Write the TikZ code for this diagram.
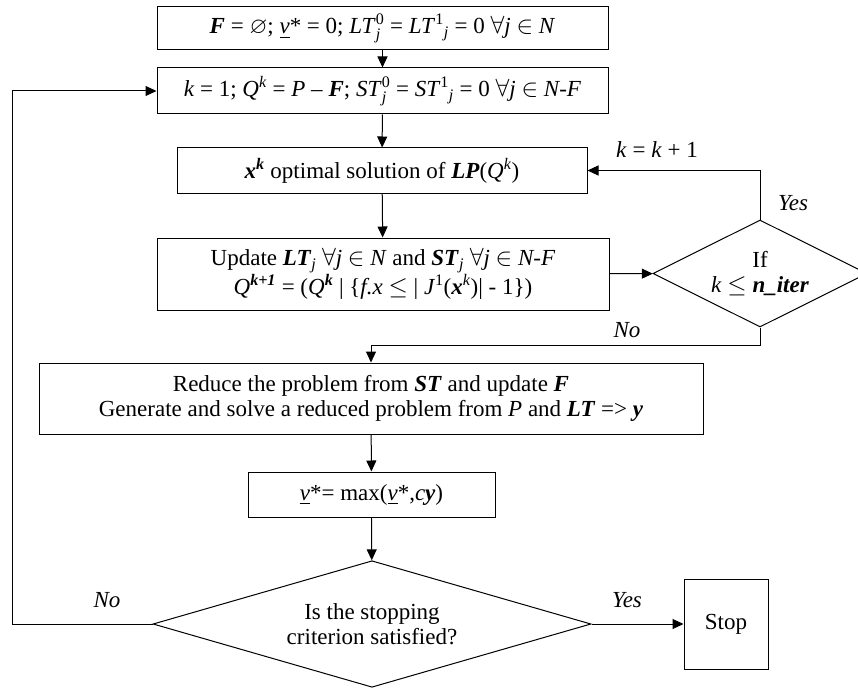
\documentclass[tikz,border=0pt]{standalone}
\usepackage{amsmath,amssymb}
\usepackage{fontspec}
\setmainfont{Liberation Serif}
\usetikzlibrary{shapes.geometric,arrows.meta}

\newcommand{\bvar}[1]{\textbf{\textit{#1}}}
\newcommand{\vlow}{\underline{\textit{v}}}
\newcommand{\supsub}[2]{$^{\text{#1}}_{\textit{#2}}$}

\begin{document}
\begin{tikzpicture}[x=1pt,y=-1pt,
    box/.style={rectangle,draw,line width=1pt,inner sep=0pt,align=center,font=\fontsize{23}{25}\selectfont},
    test/.style={diamond,draw,line width=1pt,inner sep=0pt,aspect=2,align=center,font=\fontsize{23}{25}\selectfont},
    lbl/.style={font=\fontsize{23}{25}\selectfont\itshape},
    flow/.style={-{Triangle[length=11pt,width=10pt]},line width=1pt}]
    \useasboundingbox (0,0) rectangle (858,687);
        \node [box, minimum width=451, minimum height=43] (init) at (382.5,28.5) {\bvar{F} = $\varnothing$; \vlow* = 0; \textit{LT}\supsub{0}{j} = \textit{LT}$^{\text{1}}{}_{\textit{j}}$ = 0 $\forall$\textit{j} $\in$ \textit{N}};
        \node [box, minimum width=451, minimum height=46] (start) at (382.5,91) {\textit{k} = 1; \textit{Q}\textsuperscript{\textit{k}} = \textit{P} -- \bvar{F}; \textit{ST}\supsub{0}{j} = \textit{ST}$^{\text{1}}{}_{\textit{j}}$ = 0 $\forall$\textit{j} $\in$ \textit{N-F}};
        \node [box, minimum width=410, minimum height=45] (lp) at (382,170.5) {\bvar{x}\textsuperscript{\bvar{k}} optimal solution of \bvar{LP}(\textit{Q}\textsuperscript{\textit{k}})};
        \node [box, minimum width=452, minimum height=72] (update) at (383,274) {Update \bvar{LT}\textsubscript{\textit{j}} $\forall$\textit{j} $\in$ \textit{N} and \bvar{ST}\textsubscript{\textit{j}} $\forall$\textit{j} $\in$ \textit{N-F}\\ \textit{Q}\textsuperscript{\bvar{k+1}} = (\textit{Q}\textsuperscript{\bvar{k}} | \{\textit{f.x} $\le$ | \textit{J}\textsuperscript{1}(\bvar{x}\textsuperscript{\textit{k}})| - 1\})};
        \node [test, minimum width=214, minimum height=107] (iter) at (760,273.5) {If\\ \textit{k} $\le$ \bvar{n\_iter}};
        \node [box, minimum width=664, minimum height=71] (reduce) at (371,398.5) {Reduce the problem from \bvar{ST} and update \bvar{F}\\ Generate and solve a reduced problem from \textit{P} and \bvar{LT} => \bvar{y}};
        \node [box, minimum width=247, minimum height=45] (best) at (371.5,494.5) {\vlow*= max(\vlow*,\textit{c}\bvar{y})};
        \node [test, minimum width=438, minimum height=124] (stopping) at (372,624) {Is the stopping\\ criterion satisfied?};
        \node [box, minimum width=84, minimum height=90] (stop) at (726,624) {Stop};
        \coordinate (back) at (12,0);

        \node [lbl, font=\fontsize{23}{25}\selectfont] (incr) at (657,150) {\textit{k} = \textit{k} + 1};
        \node [lbl] (yes1) at (793,203) {Yes};
        \node [lbl] (no1) at (627,330) {No};
        \node [lbl] (no2) at (107,600) {No};
        \node [lbl] (yes2) at (627,600) {Yes};

        \path [draw,flow] (init) edge (start);
        \path [draw,flow] (start) edge (lp);
        \path [draw,flow] (lp) edge (update);
        \path [draw,flow] (update) edge (iter);
        \draw [flow] (iter.north) |- (lp.east);
        \draw [flow] (iter.south) -- ++(0,18) -| (reduce.north);
        \path [draw,flow] (reduce) edge (best);
        \path [draw,flow] (best) edge (stopping);
        \path [draw,flow] (stopping) edge (stop);
        \draw [flow] (stopping.west) -- (stopping.west -| back) |- (start.west);
    \end{tikzpicture}
\end{document}
